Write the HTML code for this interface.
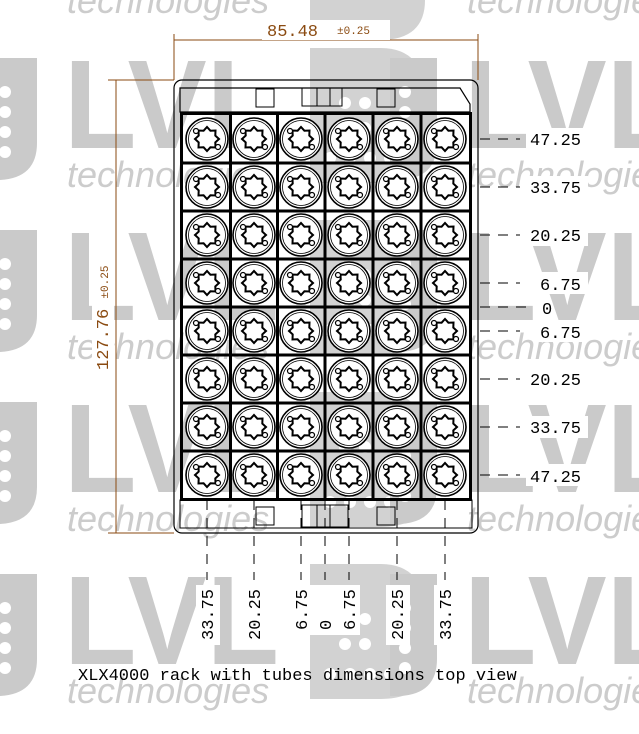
<!DOCTYPE html>
<html><head><meta charset="utf-8"><style>
html,body{margin:0;padding:0;background:#fff;}
svg{display:block;}
</style></head><body>
<svg width="639" height="734" viewBox="0 0 639 734" xmlns="http://www.w3.org/2000/svg">
<defs>
<g id="cell">
<circle r="21" fill="#fff" stroke="#000" stroke-width="1.6"/>
<circle r="18.5" fill="none" stroke="#000" stroke-width="0.8"/>
<polygon points="12,0 8.3,3.4 8.5,8.5 3.4,8.3 0,12 -3.4,8.3 -8.5,8.5 -8.3,3.4 -12,0 -8.3,-3.4 -8.5,-8.5 -3.4,-8.3 0,-12 3.4,-8.3 8.5,-8.5 8.3,-3.4" fill="none" stroke="#000" stroke-width="2"/>
<circle cx="-11" cy="-8" r="2.5" fill="#fff" stroke="#000" stroke-width="1.2"/>
<circle cx="11" cy="8" r="2.5" fill="#fff" stroke="#000" stroke-width="1.2"/>
</g>
<g id="wm">
<path d="M-10 0 L37 0 L37 85 Q37 120 0 122 L-10 122 Z" fill="#cacaca"/>
<circle cx="5" cy="34" r="6" fill="#fff"/><circle cx="5" cy="54" r="6" fill="#fff"/>
<circle cx="5" cy="74" r="6" fill="#fff"/><circle cx="5" cy="94" r="6" fill="#fff"/>
<text x="64" y="90" font-family="Liberation Sans, sans-serif" font-size="126" font-weight="bold" fill="#cacaca" textLength="215" lengthAdjust="spacingAndGlyphs">LVL</text>
<path d="M310 -10 L380 -10 Q425 -10 425 40 L425 90 Q425 125 380 125 L310 125 Z" fill="#d2d2d2"/>
<circle cx="330" cy="100" r="6" fill="#fff"/><circle cx="350" cy="100" r="6" fill="#fff"/><circle cx="370" cy="100" r="6" fill="#fff"/><circle cx="390" cy="100" r="6" fill="#fff"/>
<circle cx="345" cy="70" r="6" fill="#fff"/><circle cx="365" cy="70" r="6" fill="#fff"/>
<circle cx="345" cy="45" r="6" fill="#fff"/><circle cx="365" cy="45" r="6" fill="#fff"/>
<text x="67" y="129" font-family="Liberation Sans, sans-serif" font-size="36" font-style="italic" fill="#cccccc">technologies</text>
</g>
</defs>
<!-- watermark -->
<text x="67" y="13" font-family="Liberation Sans, sans-serif" font-size="36" font-style="italic" fill="#cccccc">technologies</text>
<text x="467" y="13" font-family="Liberation Sans, sans-serif" font-size="36" font-style="italic" fill="#cccccc">technologies</text>
<path d="M310 0 L425 0 L425 0 Q425 40 380 40 L310 40 Z" fill="#d2d2d2"/>
<use href="#wm" x="0" y="58"/><use href="#wm" x="400" y="58"/>
<use href="#wm" x="0" y="230"/><use href="#wm" x="400" y="230"/>
<use href="#wm" x="0" y="402"/><use href="#wm" x="400" y="402"/>
<use href="#wm" x="0" y="574"/><use href="#wm" x="400" y="574"/>
<!-- dimensions -->
<g stroke="#8a4a10" stroke-width="1" fill="none">
<line x1="174" y1="40" x2="478" y2="40"/>
<line x1="174" y1="34" x2="174" y2="80"/>
<line x1="478" y1="34" x2="478" y2="80"/>
<line x1="116" y1="80" x2="116" y2="533"/>
<line x1="108" y1="80" x2="174" y2="80"/>
<line x1="108" y1="533" x2="174" y2="533"/>
</g>
<rect x="262" y="20" width="128" height="20" fill="#fff"/>
<text x="267" y="36" font-family="Liberation Mono, monospace" font-size="17" fill="#8a4a10">85.48</text>
<text x="337" y="34" font-family="Liberation Mono, monospace" font-size="11" fill="#8a4a10">±0.25</text>
<rect x="92" y="238" width="22" height="135" fill="#fff"/>
<text transform="translate(108,370) rotate(-90)" font-family="Liberation Mono, monospace" font-size="17" fill="#8a4a10">127.76 <tspan font-size="11">±0.25</tspan></text>
<!-- rack -->
<rect x="174" y="80" width="304" height="453" rx="8" fill="none" stroke="#000" stroke-width="1.2"/>
<path d="M180 88 L460 88 L470 104 L470 112 L180 112 Z" fill="none" stroke="#000" stroke-width="1.2"/>
<rect x="256" y="89" width="18" height="18" fill="none" stroke="#000"/>
<rect x="377" y="89" width="18" height="18" fill="none" stroke="#000"/>
<rect x="302" y="88" width="40" height="18" fill="none" stroke="#000"/>
<line x1="317" y1="88" x2="317" y2="106" stroke="#000"/>
<line x1="330" y1="88" x2="330" y2="106" stroke="#000"/>
<rect x="256" y="507" width="18" height="18" fill="none" stroke="#000"/>
<rect x="377" y="507" width="18" height="18" fill="none" stroke="#000"/>
<rect x="302" y="505" width="46" height="22" fill="none" stroke="#000"/>
<line x1="317" y1="505" x2="317" y2="527" stroke="#000"/>
<line x1="330" y1="505" x2="330" y2="527" stroke="#000"/>
<rect x="180" y="500" width="292" height="28" fill="none" stroke="#000"/>
<rect x="181.5" y="113.5" width="289" height="386" fill="none" stroke="#000" stroke-width="3"/>
<g stroke="#000" stroke-width="3">
<line x1="230.5" y1="113" x2="230.5" y2="500"/><line x1="277.5" y1="113" x2="277.5" y2="500"/>
<line x1="325" y1="113" x2="325" y2="500"/><line x1="373" y1="113" x2="373" y2="500"/>
<line x1="421" y1="113" x2="421" y2="500"/>
<line x1="181" y1="163" x2="471" y2="163"/><line x1="181" y1="211" x2="471" y2="211"/>
<line x1="181" y1="259" x2="471" y2="259"/><line x1="181" y1="307" x2="471" y2="307"/>
<line x1="181" y1="355" x2="471" y2="355"/><line x1="181" y1="403" x2="471" y2="403"/>
<line x1="181" y1="451" x2="471" y2="451"/>
</g>
<g>
<use href="#cell" x="207" y="139"/><use href="#cell" x="254" y="139"/><use href="#cell" x="301" y="139"/><use href="#cell" x="349" y="139"/><use href="#cell" x="397" y="139"/><use href="#cell" x="445" y="139"/>
<use href="#cell" x="207" y="187"/><use href="#cell" x="254" y="187"/><use href="#cell" x="301" y="187"/><use href="#cell" x="349" y="187"/><use href="#cell" x="397" y="187"/><use href="#cell" x="445" y="187"/>
<use href="#cell" x="207" y="235"/><use href="#cell" x="254" y="235"/><use href="#cell" x="301" y="235"/><use href="#cell" x="349" y="235"/><use href="#cell" x="397" y="235"/><use href="#cell" x="445" y="235"/>
<use href="#cell" x="207" y="283"/><use href="#cell" x="254" y="283"/><use href="#cell" x="301" y="283"/><use href="#cell" x="349" y="283"/><use href="#cell" x="397" y="283"/><use href="#cell" x="445" y="283"/>
<use href="#cell" x="207" y="331"/><use href="#cell" x="254" y="331"/><use href="#cell" x="301" y="331"/><use href="#cell" x="349" y="331"/><use href="#cell" x="397" y="331"/><use href="#cell" x="445" y="331"/>
<use href="#cell" x="207" y="379"/><use href="#cell" x="254" y="379"/><use href="#cell" x="301" y="379"/><use href="#cell" x="349" y="379"/><use href="#cell" x="397" y="379"/><use href="#cell" x="445" y="379"/>
<use href="#cell" x="207" y="427"/><use href="#cell" x="254" y="427"/><use href="#cell" x="301" y="427"/><use href="#cell" x="349" y="427"/><use href="#cell" x="397" y="427"/><use href="#cell" x="445" y="427"/>
<use href="#cell" x="207" y="475"/><use href="#cell" x="254" y="475"/><use href="#cell" x="301" y="475"/><use href="#cell" x="349" y="475"/><use href="#cell" x="397" y="475"/><use href="#cell" x="445" y="475"/>
</g>
<!-- dashed leaders -->
<g stroke="#000" stroke-width="1" stroke-dasharray="10,8">
<line x1="480" y1="139" x2="520" y2="139"/><line x1="480" y1="187" x2="520" y2="187"/>
<line x1="480" y1="235" x2="520" y2="235"/><line x1="480" y1="283" x2="520" y2="283"/>
<line x1="480" y1="307" x2="530" y2="307"/>
<line x1="480" y1="331" x2="520" y2="331"/><line x1="480" y1="379" x2="520" y2="379"/>
<line x1="480" y1="427" x2="520" y2="427"/><line x1="480" y1="475" x2="520" y2="475"/>
<line x1="207" y1="500" x2="207" y2="580"/><line x1="254" y1="500" x2="254" y2="580"/>
<line x1="301" y1="500" x2="301" y2="580"/><line x1="325" y1="500" x2="325" y2="580"/>
<line x1="349" y1="500" x2="349" y2="580"/><line x1="397" y1="500" x2="397" y2="580"/>
<line x1="445" y1="500" x2="445" y2="580"/>
</g>
<g fill="#fff">
<rect x="526" y="128" width="62" height="22"/><rect x="526" y="176" width="62" height="22"/>
<rect x="526" y="224" width="62" height="22"/><rect x="536" y="272" width="52" height="22"/>
<rect x="526" y="368" width="62" height="22"/><rect x="526" y="416" width="62" height="22"/>
<rect x="526" y="464" width="62" height="22"/><rect x="536" y="320" width="52" height="22"/>
<rect x="196" y="585" width="24" height="60"/><rect x="243" y="585" width="24" height="60"/>
<rect x="290" y="585" width="70" height="50"/><rect x="386" y="585" width="24" height="60"/>
<rect x="434" y="585" width="24" height="60"/>
</g>
<g font-family="Liberation Mono, monospace" font-size="17" fill="#000">
<text x="530" y="145">47.25</text><text x="530" y="193">33.75</text>
<text x="530" y="241">20.25</text><text x="540" y="290">6.75</text>
<text x="542" y="314">0</text><text x="540" y="338">6.75</text>
<text x="530" y="385">20.25</text><text x="530" y="433">33.75</text>
<text x="530" y="482">47.25</text>
<text transform="translate(213,640) rotate(-90)">33.75</text>
<text transform="translate(260,640) rotate(-90)">20.25</text>
<text transform="translate(307,630) rotate(-90)">6.75</text>
<text transform="translate(331,630) rotate(-90)">0</text>
<text transform="translate(355,630) rotate(-90)">6.75</text>
<text transform="translate(403,640) rotate(-90)">20.25</text>
<text transform="translate(451,640) rotate(-90)">33.75</text>
<text x="78" y="680">XLX4000 rack with tubes dimensions top view</text>
</g>
</svg>
</body></html>
